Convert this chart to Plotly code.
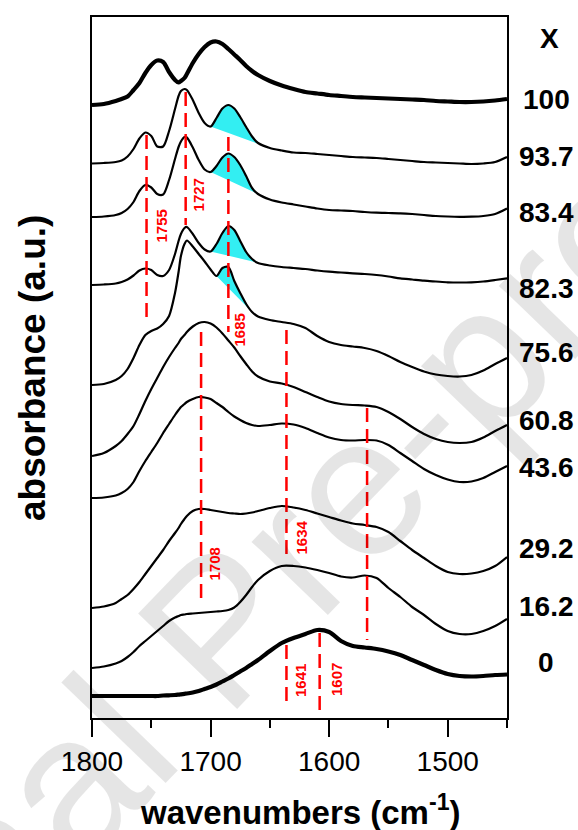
import plotly.graph_objects as go

# ---------------- data ----------------
wavenumbers = [1800, 1790, 1780, 1775, 1770, 1765, 1760, 1755, 1750, 1745,
               1740, 1735, 1730, 1727, 1725, 1722, 1720, 1715, 1710, 1705,
               1700, 1695, 1690, 1685, 1680, 1675, 1670, 1665, 1660, 1650,
               1640, 1630, 1620, 1610, 1600, 1590, 1580, 1570, 1560, 1550,
               1540, 1530, 1520, 1510, 1500, 1490, 1480, 1470, 1460, 1450]

# stacked (offset) absorbance traces, given as vertical position in the stack
# (value axis runs from 718 at the bottom to 17 at the top)
s100 = [105, 104, 101, 99, 96.5, 90, 83, 73, 65, 60.5,
        62, 72, 80, 82.5, 81, 78, 74, 63, 54, 47,
        42.5, 41.5, 44, 49, 54.5, 60, 66, 71, 75, 81,
        85.5, 89, 92, 93.5, 95, 96, 97, 97.5, 98, 98.5,
        99, 99.5, 100, 101, 101.5, 102, 102, 101.5, 100.5, 99]
s93_7 = [163.5, 163, 162, 160.5, 156.5, 149, 138.5, 132.5, 136, 146.5,
         146.5, 131, 109, 96, 91, 89, 90, 100, 113, 123,
         126.5, 118, 108.5, 105, 108.5, 117, 127, 136.5, 143, 148,
         150.5, 152.5, 153, 154, 155, 156, 157, 157.5, 158, 159,
         160, 161, 162, 162.5, 163, 163.5, 164, 163.5, 162, 157]
s83_4 = [217, 216.5, 215, 213, 209, 202, 191, 185, 187.5, 194,
         194.5, 180, 159, 147, 141.5, 137, 137.5, 147.5, 160, 169.5,
         172, 166, 157.5, 153.5, 157, 165, 176, 188, 194, 199.5,
         202.5, 204.5, 206.5, 208.5, 210, 210.5, 211, 212, 212.7, 213,
         213.3, 214, 215, 216, 216.5, 216.8, 216.7, 216, 214, 208.5]
s82_3 = [285, 284.5, 283.5, 282, 279.5, 275.5, 270.5, 268.5, 270, 275,
         276, 270, 254, 241, 234, 228, 227, 234, 243, 249.5,
         251.5, 244, 233, 226, 230, 241, 252, 259, 263, 265.5,
         267, 268, 269, 270.5, 271.7, 272.5, 273.3, 274, 275, 276.5,
         278.3, 279.5, 280.7, 281.5, 282.3, 282.5, 282.3, 281.5, 280, 278.3]
s75_6 = [385, 384, 380, 376, 369, 358, 345, 335, 331, 328.5,
         324, 316, 293, 272, 256, 244, 240.5, 246.5, 254, 261.5,
         269.5, 276, 268, 267, 281, 293, 304, 312, 316.5, 320,
         322, 324, 328, 336, 342, 345, 346.5, 348, 351, 356,
         362, 367, 371.5, 374.5, 376, 376.5, 375, 370.5, 364, 358]
s60_8 = [456, 453, 446, 441, 434, 426, 414, 401, 389, 378,
         367, 357, 348, 343, 339, 335, 332, 326.5, 323, 322,
         323.5, 327.5, 333.5, 340.5, 347.5, 356, 364, 371.5, 376.5, 381.5,
         383.5, 387, 392, 397, 401.5, 404, 405, 405.5, 407, 412,
         419, 427, 434, 439, 442, 443, 442, 437.5, 431, 425]
s43_6 = [498, 497.5, 495.5, 493, 489, 482, 471, 461, 452, 443,
         433, 424, 415, 410, 407, 404, 402, 399, 397, 397.5,
         399, 403, 407, 412, 416.5, 420, 423, 425, 426, 425,
         423.5, 424.5, 428, 433, 437.5, 440, 440.5, 440, 440.5, 445,
         453, 461, 469, 475, 479.5, 482, 481.5, 478, 472, 466]
s29_2 = [608, 606.5, 603, 599, 595, 589, 582, 574, 566, 558,
         550, 541, 533, 528, 524, 519, 516, 511, 509, 509,
         510, 511, 512, 513, 513.5, 514, 513.5, 512.5, 511, 508,
         506, 507.5, 510, 513.5, 517, 520.5, 523.5, 525, 527, 532,
         541, 550, 558, 566, 572, 574, 573.5, 571, 566, 557]
s16_2 = [668, 666.5, 663.5, 661, 657, 652, 646, 641, 636, 631,
         626, 621, 617.5, 616, 615, 614.5, 614, 613.5, 613, 612.5,
         612, 611.5, 611, 610, 607.5, 602, 595, 587, 580, 571,
         566, 566, 567.5, 570, 573, 576.5, 577.5, 575.5, 578, 588,
         597, 607, 615, 624, 631, 634, 634, 631, 626, 619]
s0 = [696, 696, 696, 696, 696, 696, 696, 696, 696, 696,
      695.5, 695.3, 695, 694.6, 694.3, 693.8, 693.5, 692.5, 691, 689,
      687, 684.5, 681.5, 678.5, 675, 671.5, 668, 664, 660, 651,
      643, 638, 634, 630, 632, 641, 646, 647.5, 649, 651.5,
      655, 660, 665, 670, 674, 676, 676.5, 676, 675, 674.5]

series_labels = ["100", "93.7", "83.4", "82.3", "75.6", "60.8", "43.6", "29.2", "16.2", "0"]
series_values = [s100, s93_7, s83_4, s82_3, s75_6, s60_8, s43_6, s29_2, s16_2, s0]
label_pos = [99, 156, 213, 288, 352, 420, 468, 548, 606, 662]

# shaded 1685 band: (series, start wavenumber, end wavenumber)
shaded = [("93.7", 1700, 1650), ("83.4", 1700, 1660), ("82.3", 1700, 1650), ("75.6", 1695, 1665)]

# red dashed marker lines: wavenumber, top, bottom
marker_wn = [1754, 1721, 1685, 1708, 1636, 1568, 1636, 1608]
marker_top = [135, 92, 137, 332, 330, 408, 645, 633]
marker_bottom = [317, 225, 332, 602, 557, 640, 707, 715]

# peak labels: text, wavenumber, vertical position
peak_text = ["1755", "1727", "1685", "1708", "1634", "1641", "1607"]
peak_wn = [1741.4, 1709.8, 1675.2, 1697.1, 1623.7, 1624.6, 1594.2]
peak_pos = [226, 194.5, 329.5, 564.5, 537.5, 680, 680]

# ---------------- figure ----------------
FONT = "Liberation Sans, Arial, sans-serif"
Y_TOP, Y_BOT = 17, 718
X_LEFT, X_RIGHT = 92, 507


def paper_y(p):
    return (Y_BOT - p) / (Y_BOT - Y_TOP)


def paper_x(p):
    return (p - X_LEFT) / (X_RIGHT - X_LEFT)


fig = go.Figure()

for name, lo, hi in shaded:
    ys = series_values[series_labels.index(name)]
    px_, py_ = [], []
    for w, v in zip(wavenumbers, ys):
        if hi <= w <= lo:
            px_.append(w)
            py_.append(v)
    fig.add_trace(go.Scatter(x=px_, y=py_, fill="toself", fillcolor="#33EEF2",
                             mode="lines", line=dict(width=0, color="#33EEF2"),
                             hoverinfo="skip", showlegend=False))

for name, ys in zip(series_labels, series_values):
    thick = name in ("100", "0")
    fig.add_trace(go.Scatter(x=wavenumbers, y=ys, mode="lines", name=name,
                             line=dict(color="black", width=4.2 if thick else 2.2,
                                       shape="spline", smoothing=0.8),
                             showlegend=False))

for w, t, b in zip(marker_wn, marker_top, marker_bottom):
    fig.add_shape(type="line", xref="x", yref="y", x0=w, x1=w, y0=t, y1=b,
                  line=dict(color="#FF0000", width=2.5, dash="14px,7px"))

C = dict(xanchor="center", yanchor="middle", showarrow=False)
annotations = []
# watermark (faint)
annotations.append(dict(x=paper_x(218), y=paper_y(628), xref="paper", yref="paper",
                        text="Journal Pre-proof", textangle=-46,
                        font=dict(family=FONT, size=200, color="rgba(0,0,0,0.1)"), **C))

for t, w, p in zip(peak_text, peak_wn, peak_pos):
    annotations.append(dict(x=w, y=p, xref="x", yref="y", text=t, textangle=-90,
                            font=dict(family=FONT, size=15, color="#FF0000", weight="bold"), **C))

annotations.append(dict(x=paper_x(549), y=paper_y(38), xref="paper", yref="paper", text="X",
                        font=dict(family=FONT, size=28, color="black", weight="bold"), **C))
for name, p in zip(series_labels, label_pos):
    annotations.append(dict(x=paper_x(546), y=paper_y(p), xref="paper", yref="paper", text=name,
                            font=dict(family=FONT, size=28, color="black", weight="bold"), **C))

annotations.append(dict(x=paper_x(300), y=paper_y(810), xref="paper", yref="paper",
                        text="wavenumbers (cm<sup>-1</sup>)",
                        font=dict(family=FONT, size=33, color="black", weight="bold"), **C))
annotations.append(dict(x=paper_x(33), y=paper_y(368), xref="paper", yref="paper",
                        text="absorbance (a.u.)", textangle=-90,
                        font=dict(family=FONT, size=37, color="black", weight="bold"), **C))

fig.update_layout(
    width=578, height=830,
    margin=dict(l=92, r=71, t=17, b=112),
    paper_bgcolor="white", plot_bgcolor="white",
    annotations=annotations,
    xaxis=dict(range=[1800, 1450], showgrid=False, zeroline=False,
               showline=True, linecolor="black", linewidth=2, mirror=True,
               ticks="outside", ticklen=17, tickwidth=2, tickcolor="black",
               tickvals=[1800, 1700, 1600, 1500],
               ticktext=["1800", "1700", "1600", "1500"],
               tickfont=dict(family=FONT, size=28, color="black"),
               minor=dict(tickvals=[1750, 1650, 1550, 1450], ticks="outside",
                          ticklen=8, tickwidth=2, tickcolor="black")),
    yaxis=dict(range=[Y_BOT, Y_TOP], showgrid=False, zeroline=False,
               showline=True, linecolor="black", linewidth=2, mirror=True,
               showticklabels=False, ticks=""),
)

# remove the browser's default 8px page margin so the figure fills the window exactly
fig.write_html("out.html",
               config={"displayModeBar": False},
               post_script="document.body.style.margin='0';document.body.style.overflow='hidden';")
